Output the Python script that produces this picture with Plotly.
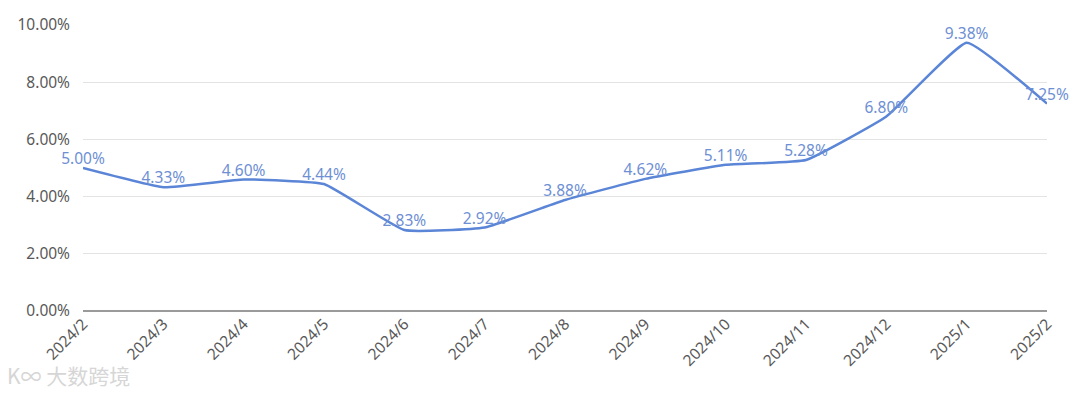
import plotly.graph_objects as go

months = ["2024/2", "2024/3", "2024/4", "2024/5", "2024/6", "2024/7", "2024/8",
          "2024/9", "2024/10", "2024/11", "2024/12", "2025/1", "2025/2"]
rates = [5.00, 4.33, 4.60, 4.44, 2.83, 2.92, 3.88, 4.62, 5.11, 5.28, 6.80, 9.38, 7.25]
labels = [f"{v:.2f}%" for v in rates]
y_ticks = [0, 2, 4, 6, 8, 10]
y_ticklabels = [f"{v:.2f}%" for v in y_ticks]

fig = go.Figure()
fig.add_trace(go.Scatter(
    x=months, y=rates, mode="lines+text",
    text=labels, textposition="top center",
    textfont=dict(color="#6e8fd4", size=15.5, family="Noto Sans, sans-serif"),
    line=dict(color="#5b85d6", width=2.5, shape="spline", smoothing=0.35),
    cliponaxis=False, showlegend=False,
))

fig.update_layout(
    width=1080, height=396,
    margin=dict(l=75, r=41, t=17, b=93),
    paper_bgcolor="white", plot_bgcolor="white",
    font=dict(family="Noto Sans, sans-serif", color="#595959", size=16),
    xaxis=dict(
        type="category", range=[0, len(months) - 1], automargin=False,
        tickangle=-45, showgrid=False, zeroline=False,
        showline=False, ticks="", tickfont=dict(size=15.5, color="#595959"),
    ),
    yaxis=dict(
        range=[0, 10], tickvals=y_ticks, ticktext=y_ticklabels, automargin=False,
        showgrid=True, gridcolor="#e3e3e3", gridwidth=1,
        zeroline=True, zerolinecolor="#9a9a9a", zerolinewidth=1.5,
        ticks="", ticklabelstandoff=12, tickfont=dict(size=15.5, color="#595959"),
    ),
    annotations=[dict(
        text="K∞ 大数跨境", xref="paper", yref="paper",
        x=-0.081, y=-0.224, xanchor="left", yanchor="middle", showarrow=False,
        font=dict(size=21, color="#d6d6d6", family="Noto Sans CJK SC, sans-serif"),
    )],
)

fig.write_html("out.html")
